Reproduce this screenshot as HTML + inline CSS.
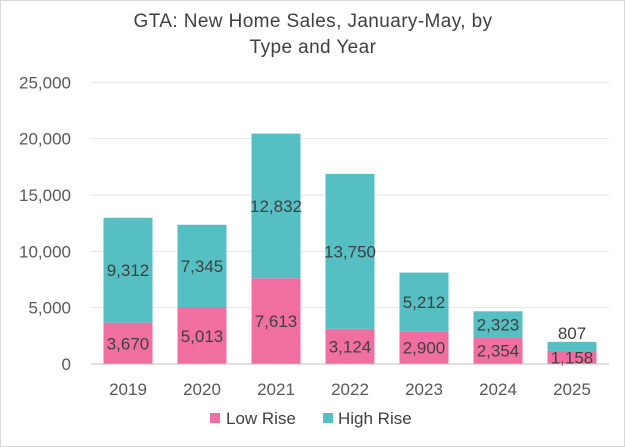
<!DOCTYPE html>
<html><head><meta charset="utf-8"><style>
html,body{margin:0;padding:0;background:#fff;}
svg{display:block;font-family:"Liberation Sans",sans-serif;}
</style></head><body>
<svg id="chart" width="625" height="447" viewBox="0 0 625 447">
<rect x="0.5" y="0.5" width="624" height="446" fill="#fff" stroke="#d9d9d9"/>
<text x="313" y="27" text-anchor="middle" font-size="19" letter-spacing="0.4" fill="#404040">GTA: New Home Sales, January-May, by</text>
<text x="313" y="53" text-anchor="middle" font-size="19" letter-spacing="0.4" fill="#404040">Type and Year</text>
<g id="grid"></g><g id="bars"></g><g id="labels"></g>
<g>
<rect x="210" y="413" width="10" height="10" fill="#F06FA0"/>
<text x="226" y="424" font-size="17" fill="#404040">Low Rise</text>
<rect x="323" y="413" width="10" height="10" fill="#56BFC3"/>
<text x="338" y="424" font-size="17" fill="#404040">High Rise</text>
</g>
</svg>
<script>
const categories = ["2019","2020","2021","2022","2023","2024","2025"];
const lowRise = [3670,5013,7613,3124,2900,2354,1158];
const highRise = [9312,7345,12832,13750,5212,2323,807];
const yTicks = [0,5000,10000,15000,20000,25000];
const yTickLabels = ["0","5,000","10,000","15,000","20,000","25,000"];

const NS="http://www.w3.org/2000/svg";
const plotL=91, plotR=609, y0=364, yTop=82.3, yMax=25000;
const band=(plotR-plotL)/categories.length, barW=49;
function y(v){return y0-(v/yMax)*(y0-yTop);}
function xc(i){return plotL+band*(i+0.5);}
function mk(tag,attrs,parent){const e=document.createElementNS(NS,tag);for(const k in attrs)e.setAttribute(k,attrs[k]);parent.appendChild(e);return e;}
const grid=document.getElementById('grid'),bars=document.getElementById('bars'),labels=document.getElementById('labels');
const fmt=v=>v.toLocaleString('en-US');
yTicks.forEach((t,i)=>{
  if(t>0){const l=mk('line',{x1:plotL,x2:plotR,y1:y(t),y2:y(t),stroke:'#e6e6e6','stroke-width':1},grid);
  
  }
  const tx=mk('text',{x:71,y:y(t)+6,'text-anchor':'end','font-size':'17',fill:'#595959'},grid);
  tx.textContent=yTickLabels[i];
  
  
});
categories.forEach((c,i)=>{
  const x=xc(i)-barW/2;
  const r1=mk('rect',{x:x,y:y(lowRise[i]),width:barW,height:y0-y(lowRise[i]),fill:'#F06FA0'},bars);
  
  
  const tot=lowRise[i]+highRise[i];
  const r2=mk('rect',{x:x,y:y(tot),width:barW,height:y(lowRise[i])-y(tot),fill:'#56BFC3'},bars);
  
  
  const l1=mk('text',{x:xc(i),y:(y0+y(lowRise[i]))/2+6,'text-anchor':'middle','font-size':'17',fill:'#404040'},labels);
  l1.textContent=fmt(lowRise[i]);
  
  
  const segH=y(lowRise[i])-y(tot);
  const ly=segH<20?y(tot)-3:(y(lowRise[i])+y(tot))/2+6;
  const l2=mk('text',{x:xc(i),y:ly,'text-anchor':'middle','font-size':'17',fill:'#404040'},labels);
  l2.textContent=fmt(highRise[i]);
  
  
  const xl=mk('text',{x:xc(i),y:395,'text-anchor':'middle','font-size':'17',fill:'#595959'},labels);
  xl.textContent=c;
  
  
});
const ax=mk('line',{x1:plotL,x2:plotR,y1:y0,y2:y0,stroke:'#bfbfbf','stroke-width':1},labels);


</script>
</body></html>
